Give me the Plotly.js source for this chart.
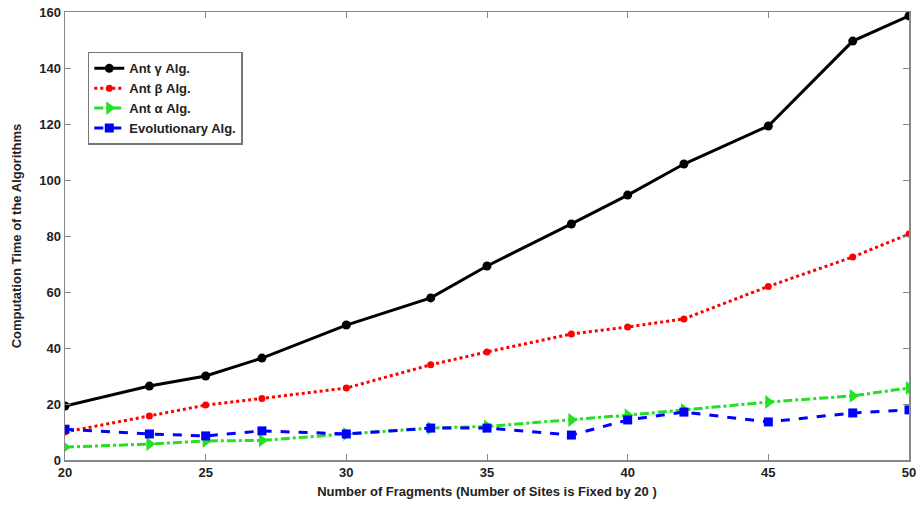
<!DOCTYPE html>
<html><head><meta charset="utf-8">
<script src="https://cdn.plot.ly/plotly-3.0.1.min.js"></script>
<style>html,body{margin:0;padding:0;background:#fff}#chart{width:920px;height:505px}</style>
</head><body><div id="chart"></div>
<script>
const fragments = [20, 23, 25, 27, 30, 33, 35, 38, 40, 42, 45, 48, 50];
const antGamma = [19.3, 26.4, 30, 36.4, 48.2, 57.9, 69.3, 84.3, 94.6, 105.7, 119.3, 149.6, 158.6];
const antBeta = [10, 15.7, 19.6, 22, 25.7, 34, 38.6, 45, 47.5, 50.4, 62, 72.5, 80.7];
const antAlpha = [4.6, 5.7, 6.8, 7, 9.3, 11.4, 12, 14.3, 16, 17.9, 20.7, 22.9, 25.7];
const evolutionary = [11, 9.3, 8.6, 10.4, 9.3, 11.4, 11.4, 8.9, 14.3, 17.1, 13.6, 16.8, 17.9];
const xTicks = [20, 25, 30, 35, 40, 45, 50];
const yTicks = [0, 20, 40, 60, 80, 100, 120, 140, 160];

const traces = [
  {x: fragments, y: antGamma, name: 'Ant γ Alg.', mode: 'lines+markers',
   line: {color: '#000000', width: 3, dash: 'solid'}, marker: {symbol: 'circle', size: 9, color: '#000000'}},
  {x: fragments, y: antBeta, name: 'Ant β Alg.', mode: 'lines+markers',
   line: {color: '#ff0000', width: 3, dash: 'dot'}, marker: {symbol: 'circle', size: 7, color: '#ff0000'}},
  {x: fragments, y: antAlpha, name: 'Ant α Alg.', mode: 'lines+markers',
   line: {color: '#22e022', width: 3, dash: 'dashdot'}, marker: {symbol: 'triangle-right', size: 12, color: '#22e022'}},
  {x: fragments, y: evolutionary, name: 'Evolutionary Alg.', mode: 'lines+markers',
   line: {color: '#0000ff', width: 3, dash: 'dash'}, marker: {symbol: 'square', size: 9, color: '#0000ff'}}
];

const axisCommon = {
  showgrid: false, zeroline: false, showline: true, mirror: 'ticks',
  linecolor: '#888888', linewidth: 1.5, ticks: 'inside', ticklen: 6, tickcolor: '#888888',
  tickfont: {family: 'Liberation Sans, Arial, sans-serif', size: 13, color: '#222', weight: 'bold'}
};

const layout = {
  width: 920, height: 505,
  margin: {l: 65, r: 11, t: 12, b: 45},
  paper_bgcolor: '#ffffff', plot_bgcolor: '#ffffff',
  showlegend: true,
  legend: {x: 0.027, y: 0.911, xanchor: 'left', yanchor: 'top',
    bgcolor: '#ffffff', bordercolor: '#777777', borderwidth: 1.5,
    font: {family: 'Liberation Sans, Arial, sans-serif', size: 13, color: '#222', weight: 'bold'},
    tracegroupgap: 0, itemwidth: 30},
  xaxis: Object.assign({}, axisCommon, {range: [20, 50], tickvals: xTicks,
    title: {text: 'Number of Fragments (Number of Sites is Fixed by 20 )', standoff: 8,
      font: {family: 'Liberation Sans, Arial, sans-serif', size: 13, color: '#222', weight: 'bold'}}}),
  yaxis: Object.assign({}, axisCommon, {range: [0, 160], tickvals: yTicks,
    title: {text: 'Computation Time of the Algorithms', standoff: 14,
      font: {family: 'Liberation Sans, Arial, sans-serif', size: 13, color: '#222', weight: 'bold'}}})
};

Plotly.newPlot('chart', traces, layout, {displayModeBar: false, staticPlot: true});
</script>
</body></html>
